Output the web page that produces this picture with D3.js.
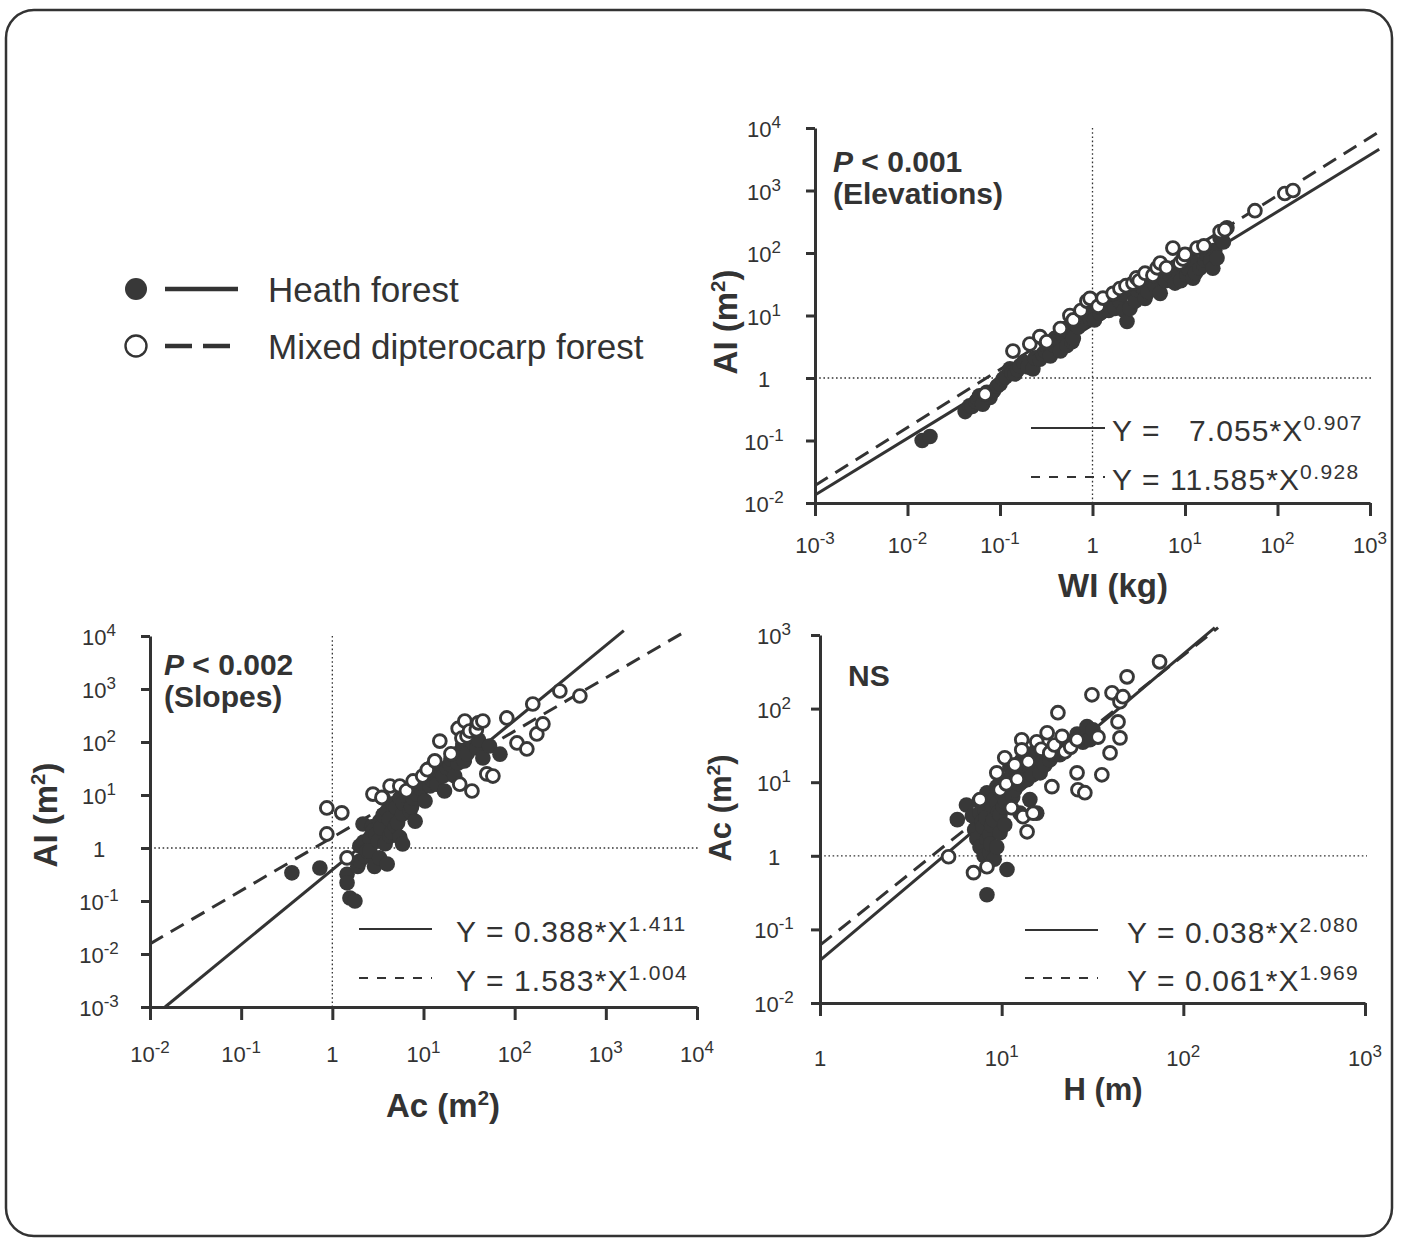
<!DOCTYPE html>
<html>
<head>
<meta charset="utf-8">
<script src="https://cdn.jsdelivr.net/npm/d3@7"></script>
<style>
  html, body { margin: 0; padding: 0; background: #ffffff; }
  svg { display: block; font-family: "Liberation Sans", Arial, Helvetica, sans-serif; }
</style>
</head>
<body>
<svg id="fig" width="1406" height="1239"></svg>
<script>
// ---- Data: [x, y] pairs for each forest type and relationship ----

// Leaf area (AI, m2) vs leaf weight (WI, kg), by elevation
const heathElev = [
  [0.0144,0.100],[0.0175,0.116],[0.042,0.29],[0.047,0.36],[0.050,0.35],[0.055,0.42],
  [0.058,0.46],[0.06,0.52],[0.065,0.38],[0.072,0.59],[0.078,0.49],[0.085,0.62],
  [0.093,0.74],[0.1,0.80],[0.108,0.96],[0.115,1.05],[0.128,1.40],[0.135,1.2],
  [0.145,1.16],[0.155,1.35],[0.164,1.56],[0.18,1.8],[0.2,1.5],[0.227,1.40],[0.24,2.1],
  [0.27,2.0],[0.29,2.4],[0.31,2.7],[0.33,3.0],[0.35,2.26],[0.38,3.4],[0.39,4.3],
  [0.42,3.9],[0.45,2.7],[0.48,4.8],[0.50,6.2],[0.53,3.3],[0.56,5.5],[0.6,3.8],
  [0.62,4.3],[0.65,7.4],[0.7,6.5],[0.73,10],[0.8,8],[0.85,11],[0.87,13],[0.94,9.0],
  [1.0,12],[1.05,8.5],[1.12,16.8],[1.2,10.8],[1.3,18],[1.44,14.5],[1.5,12],[1.6,17],
  [1.67,21],[1.75,13],[1.98,16.8],[2.1,22],[2.2,12],[2.36,8.0],[2.54,13],[2.74,24.4],
  [2.9,17],[3.0,26],[3.27,30.5],[3.5,28],[3.7,18.8],[4.0,24],[4.5,35.3],[4.8,30],
  [5.2,42],[5.4,22.6],[5.8,39.5],[6.2,36],[6.9,44],[7.3,50],[7.8,33],[8.5,48],[9,36],
  [9.5,64],[10.5,44],[11,55],[11.3,93],[12.2,39.5],[12.5,70],[13,48],[14.5,57],
  [14.5,120],[16,65],[16.4,77],[17,95],[18.6,107],[19,75],[20,57],[21,110],[22.2,83],
  [23.9,175],[25,200],[26,150],[28.4,253]
];
const mixedElev = [
  [0.069,0.55],[0.138,2.7],[0.21,3.5],[0.27,4.6],[0.32,3.8],[0.45,6.2],[0.57,10],
  [0.62,8.5],[0.75,12],[0.87,17],[0.94,18.8],[1.15,14],[1.3,19],[1.67,22.6],[1.98,27],
  [2.3,30],[2.74,33],[3.0,40],[3.2,36],[3.7,47.5],[4.5,44],[5.0,58],[5.4,69],[6.3,58],
  [7.4,120],[8.8,69],[9.5,80],[10,95],[13.5,120],[16,130],[24,220],[27,235],[57,475],
  [120,895],[147,1000]
];

// Leaf area (AI, m2) vs crown area (Ac, m2), by slope
const heathSlope = [
  [0.36,0.34],[0.73,0.42],[1.45,0.32],[1.45,0.22],[1.56,0.114],[1.77,0.10],[1.9,0.45],
  [2.0,0.57],[2.0,1.09],[2.2,1.3],[2.3,0.7],[2.4,0.88],[2.58,1.55],[2.58,0.88],
  [2.17,2.84],[2.7,2.5],[2.79,2.1],[2.9,0.45],[3.0,1.8],[3.2,1.36],[3.3,3.2],[3.3,0.65],
  [3.4,2.4],[3.6,4.2],[3.8,1.2],[4.0,5.0],[4.0,0.50],[3.6,8.8],[4.2,3.5],[4.3,1.68],
  [4.5,2.0],[4.6,6.8],[4.9,2.6],[5.0,5.8],[5.2,3.0],[5.5,8.8],[5.5,1.6],[5.9,4.4],
  [5.9,1.19],[6.0,7.0],[6.3,11.9],[6.6,9.5],[7.1,5.0],[7.4,6.0],[7.7,8.8],[8.1,3.2],
  [8.5,10.5],[9.1,13.6],[9.5,17],[10.4,7.7],[10.9,21],[11.8,32],[11.8,14.8],[12.5,19],
  [13,26],[14,16],[15.1,28],[16.5,23],[17,11.9],[18,33],[19.5,38],[20,48],[22,22.8],
  [23.2,59],[24,40],[26,70],[27,92],[28,44],[30,60],[32,119],[35,95],[38.5,77],
  [40,110],[44.8,50],[53,84],[69,59]
];
const mixedSlope = [
  [0.87,5.7],[1.27,4.6],[0.87,1.84],[1.45,0.65],[2.79,10.4],[3.5,9],[4.3,14.8],
  [5.5,14.8],[6.5,12],[7.7,18.4],[9.8,22.8],[11,30],[13.3,44],[15.1,104],[20,60],
  [24,180],[25,16],[26.4,119],[28.4,249],[30,130],[32,161],[34,11.9],[38,170],[40,230],
  [44.8,249],[49.5,25],[57.7,22.8],[82,284],[106,96],[136,74],[158,521],[175,142],
  [204,219],[313,917],[519,738]
];

// Crown area (Ac, m2) vs tree height (H, m)
const heathHeight = [
  [5.7,3.1],[6.4,4.9],[6.9,3.5],[7.1,2.26],[7.2,2.2],[7.3,1.7],[7.5,5.5],[7.6,3.8],
  [7.6,1.32],[7.8,2.9],[7.9,2.48],[8.0,1.0],[8.1,4.2],[8.2,3.3],[8.3,1.65],[8.3,7.2],
  [8.3,0.295],[8.6,1.1],[8.6,1.93],[8.7,1.45],[8.8,2.6],[8.9,4.8],[9.0,3.1],[9.1,0.9],
  [9.2,6.0],[9.4,1.32],[9.4,8.7],[9.4,5.2],[9.6,3.9],[9.8,2.05],[9.8,3.6],[10,7],
  [10.2,4.6],[10.4,2.64],[10.5,5.4],[10.7,10.8],[10.7,0.65],[10.9,9.2],[11.1,16.2],
  [11.3,12],[11.5,6.3],[11.8,7.9],[12.1,13.4],[12.4,9.5],[12.6,3.8],[12.9,20],[13,15],
  [13.5,18.5],[13.8,10.8],[14.3,16.2],[14.3,5.8],[14.8,12.5],[15,25],[15.6,22],
  [15.6,3.8],[16.3,13.4],[16.8,19],[17.3,17.2],[17.8,26],[18.4,20],[19,24],[20.1,30],
  [20.9,23.6],[21.7,37.7],[22.5,32],[23.8,30],[24.5,36],[26,45],[27,41],[28,35],
  [29.5,57],[30.6,37.7],[31.8,51.5]
];
const mixedHeight = [
  [5.1,0.97],[7.0,0.59],[8.3,0.71],[7.6,5.8],[9.4,13.4],[9.8,7.9],[10.4,21.5],
  [10.6,9.5],[11.3,4.5],[11.8,17.2],[12.2,11],[12.9,37.7],[12.9,27.5],[13.1,3.4],
  [13.8,2.12],[14,19],[14.9,3.8],[15.6,35.4],[16.5,28],[17.8,47],[18.4,25],[18.9,8.7],
  [19.5,32],[20.4,88],[21.5,42],[22.3,25.9],[24,30],[26,37.7],[26,13.4],[26.3,7.9],
  [28.7,7.2],[31.4,154],[33.9,41],[35.6,12.6],[39.5,25],[40.5,164],[43.7,66],
  [44.8,40],[44.8,124],[46.5,145],[49,270],[74,432]
];

// Power-law fits Y = a * X^b : [a, b]
const fitElevHeath = [7.055, 0.907];
const fitElevMixed = [11.585, 0.928];
const fitSlopeHeath = [0.388, 1.411];
const fitSlopeMixed = [1.583, 1.004];
const fitHeightHeath = [0.038, 2.080];
const fitHeightMixed = [0.061, 1.969];

// Axis tick exponents (labels are 10^e, with 10^0 shown as "1")
const elevTicksX = [-3, -2, -1, 0, 1, 2, 3];
const elevTicksY = [-2, -1, 0, 1, 2, 3, 4];
const slopeTicksX = [-2, -1, 0, 1, 2, 3, 4];
const slopeTicksY = [-3, -2, -1, 0, 1, 2, 3, 4];
const heightTicksX = [0, 1, 2, 3];
const heightTicksY = [-2, -1, 0, 1, 2, 3];

// Legend entries
const legendLabels = ["Heath forest", "Mixed dipterocarp forest"];

// ---- Drawing ----
const INK = "#333333";
const DOT = "#383838";
const svg = d3.select("#fig");

// rounded outer frame
svg.append("rect")
  .attr("x", 6).attr("y", 10).attr("width", 1386).attr("height", 1226)
  .attr("rx", 28).attr("ry", 28)
  .attr("fill", "#ffffff").attr("stroke", INK).attr("stroke-width", 2.5);

function powLabel(textSel, e, supSize, supShift) {
  if (e === 0) { textSel.text("1"); return; }
  textSel.append("tspan").text("10");
  textSel.append("tspan").attr("dy", -supShift).attr("font-size", supSize).text(String(e));
}

function unitTitle(g, pre, sup, post, size) {
  // e.g. "AI (m" + superscript "2" + ")"
  g.append("tspan").text(pre);
  if (sup) {
    g.append("tspan").attr("dy", -size * 0.36).attr("font-size", size * 0.62).text(sup);
    g.append("tspan").attr("dy", size * 0.36).text(post);
  }
}

function panel(cfg) {
  const x = d3.scaleLog().domain(cfg.xDomain).range(cfg.xRange);
  const y = d3.scaleLog().domain(cfg.yDomain).range(cfg.yRange);
  const g = svg.append("g");
  const [x0, x1] = cfg.xRange;
  const [y0, y1] = cfg.yRange; // y0 bottom, y1 top

  // dotted reference lines at X = 1 and Y = 1
  if (cfg.xDomain[0] < 1) {
    g.append("line").attr("x1", x(1)).attr("x2", x(1)).attr("y1", y1).attr("y2", y0)
      .attr("stroke", INK).attr("stroke-width", 1.3).attr("stroke-dasharray", "1.6,2.6");
  }
  g.append("line").attr("x1", x0).attr("x2", x1 + 2).attr("y1", y(1)).attr("y2", y(1))
    .attr("stroke", INK).attr("stroke-width", 1.3).attr("stroke-dasharray", "1.6,2.6");

  // axes
  const yAxis = d3.axisLeft(y).tickValues(cfg.yTicks.map(e => Math.pow(10, e)))
    .tickFormat("").tickSize(9).tickSizeOuter(0);
  const xAxis = d3.axisBottom(x).tickValues(cfg.xTicks.map(e => Math.pow(10, e)))
    .tickFormat("").tickSize(13).tickSizeOuter(0);
  const ya = g.append("g").attr("transform", `translate(${x0},0)`).call(yAxis);
  const xa = g.append("g").attr("transform", `translate(0,${y0})`).call(xAxis);
  [ya, xa].forEach(a => {
    a.select(".domain").attr("stroke", INK).attr("stroke-width", 3);
    a.selectAll(".tick line").attr("stroke", INK).attr("stroke-width", 3);
  });

  // tick labels
  cfg.yTicks.forEach(e => {
    const t = g.append("text").attr("x", x0 - cfg.yLabelOff).attr("y", y(Math.pow(10, e)) + 9)
      .attr("text-anchor", "middle").attr("font-size", 22).attr("fill", INK);
    powLabel(t, e, 17, 9);
  });
  cfg.xTicks.forEach(e => {
    const t = g.append("text").attr("x", x(Math.pow(10, e))).attr("y", cfg.xLabelY)
      .attr("text-anchor", "middle").attr("font-size", 22).attr("fill", INK);
    powLabel(t, e, 17, 9);
  });

  // axis titles
  const xt = g.append("text").attr("x", cfg.xTitle.x).attr("y", cfg.xTitle.y)
    .attr("text-anchor", "middle").attr("font-weight", "bold")
    .attr("font-size", cfg.xTitle.size).attr("fill", INK);
  unitTitle(xt, cfg.xTitle.pre, cfg.xTitle.sup, cfg.xTitle.post, cfg.xTitle.size);
  const yt = g.append("text")
    .attr("transform", `translate(${cfg.yTitle.x},${cfg.yTitle.y}) rotate(-90)`)
    .attr("text-anchor", "middle").attr("font-weight", "bold")
    .attr("font-size", cfg.yTitle.size).attr("fill", INK);
  unitTitle(yt, cfg.yTitle.pre, cfg.yTitle.sup, cfg.yTitle.post, cfg.yTitle.size);

  // fitted power-law lines (straight in log-log space)
  const xCap = cfg.xDomain[1] * Math.pow(10, 0.1);
  const yCap = cfg.yDomain[1] * Math.pow(10, 0.1);
  function fitLine(fit, dash) {
    const [a, b] = fit;
    const xs = Math.max(cfg.xDomain[0], Math.pow(cfg.yDomain[0] / a, 1 / b));
    const xe = Math.min(xCap, Math.pow(yCap / a, 1 / b));
    const pts = [xs, xe].map(v => [v, a * Math.pow(v, b)]);
    g.append("path")
      .attr("d", d3.line().x(d => x(d[0])).y(d => y(d[1]))(pts))
      .attr("fill", "none").attr("stroke", INK).attr("stroke-width", 3)
      .attr("stroke-dasharray", dash ? "15,9" : null);
  }
  fitLine(cfg.fitMixed, true);
  fitLine(cfg.fitHeath, false);

  // points: filled = heath forest, open = mixed dipterocarp forest
  g.append("g").selectAll("circle").data(cfg.heath).join("circle")
    .attr("cx", d => x(d[0])).attr("cy", d => y(d[1])).attr("r", 7.8)
    .attr("fill", DOT);
  g.append("g").selectAll("circle").data(cfg.mixed).join("circle")
    .attr("cx", d => x(d[0])).attr("cy", d => y(d[1])).attr("r", 6.4)
    .attr("fill", "#ffffff").attr("stroke", DOT).attr("stroke-width", 2.9);

  // significance note
  cfg.note.forEach((line, i) => {
    const t = g.append("text").attr("x", cfg.noteX).attr("y", cfg.noteY + i * 32)
      .attr("font-weight", "bold").attr("font-size", 30).attr("fill", INK);
    if (line.italic) {
      t.append("tspan").attr("font-style", "italic").text(line.italic);
    }
    t.append("tspan").text(line.text);
  });

  // equation key
  const fits = [cfg.fitHeath, cfg.fitMixed];
  const aStr = fits.map(f => f[0].toFixed(3));
  const maxLen = d3.max(aStr, s => s.length);
  fits.forEach((f, i) => {
    const ky = cfg.eq.y + i * cfg.eq.gap;
    g.append("line").attr("x1", cfg.eq.x1).attr("x2", cfg.eq.x2)
      .attr("y1", ky).attr("y2", ky).attr("stroke", INK).attr("stroke-width", 2.2)
      .attr("stroke-dasharray", i === 1 ? "9,9" : null);
    const pad = "  ".repeat(maxLen - aStr[i].length);
    const t = g.append("text").attr("x", cfg.eq.tx).attr("y", ky + 13)
      .attr("font-size", 30).attr("fill", INK).attr("letter-spacing", 1.1)
      .style("white-space", "pre");
    t.append("tspan").text(`Y = ${pad}${aStr[i]}*X`);
    t.append("tspan").attr("dy", -11).attr("font-size", 21).attr("letter-spacing", 1.4)
      .text(f[1].toFixed(3));
  });
}

panel({
  xDomain: [1e-3, 1e3], xRange: [815, 1370],
  yDomain: [1e-2, 1e4], yRange: [503, 128],
  xTicks: elevTicksX, yTicks: elevTicksY,
  yLabelOff: 51, xLabelY: 553,
  xTitle: { x: 1113, y: 597, size: 33, pre: "WI (kg)" },
  yTitle: { x: 737, y: 322, size: 33, pre: "AI (m", sup: "2", post: ")" },
  heath: heathElev, mixed: mixedElev,
  fitHeath: fitElevHeath, fitMixed: fitElevMixed,
  note: [{ italic: "P", text: " < 0.001" }, { text: "(Elevations)" }],
  noteX: 833, noteY: 172,
  eq: { x1: 1031, x2: 1105, tx: 1112, y: 428, gap: 49 }
});

panel({
  xDomain: [1e-2, 1e4], xRange: [150, 697],
  yDomain: [1e-3, 1e4], yRange: [1007, 636],
  xTicks: slopeTicksX, yTicks: slopeTicksY,
  yLabelOff: 51, xLabelY: 1062,
  xTitle: { x: 443, y: 1117, size: 33, pre: "Ac (m", sup: "2", post: ")" },
  yTitle: { x: 57, y: 815, size: 33, pre: "AI (m", sup: "2", post: ")" },
  heath: heathSlope, mixed: mixedSlope,
  fitHeath: fitSlopeHeath, fitMixed: fitSlopeMixed,
  note: [{ italic: "P", text: " < 0.002" }, { text: "(Slopes)" }],
  noteX: 164, noteY: 675,
  eq: { x1: 359, x2: 432, tx: 456, y: 929, gap: 49 }
});

panel({
  xDomain: [1, 1e3], xRange: [820, 1365],
  yDomain: [1e-2, 1e3], yRange: [1003, 635],
  xTicks: heightTicksX, yTicks: heightTicksY,
  yLabelOff: 46, xLabelY: 1066,
  xTitle: { x: 1103, y: 1100, size: 31, pre: "H (m)" },
  yTitle: { x: 731, y: 808, size: 31, pre: "Ac (m", sup: "2", post: ")" },
  heath: heathHeight, mixed: mixedHeight,
  fitHeath: fitHeightHeath, fitMixed: fitHeightMixed,
  note: [{ text: "NS" }],
  noteX: 848, noteY: 686,
  eq: { x1: 1025, x2: 1098, tx: 1127, y: 930, gap: 48 }
});

// legend
const leg = svg.append("g");
legendLabels.forEach((label, i) => {
  const ly = 289 + i * 57;
  if (i === 0) {
    leg.append("circle").attr("cx", 136).attr("cy", ly).attr("r", 11).attr("fill", DOT);
  } else {
    leg.append("circle").attr("cx", 136).attr("cy", ly).attr("r", 10.5)
      .attr("fill", "#ffffff").attr("stroke", INK).attr("stroke-width", 2.4);
  }
  leg.append("line").attr("x1", 165).attr("x2", 238).attr("y1", ly).attr("y2", ly)
    .attr("stroke", INK).attr("stroke-width", 4.5)
    .attr("stroke-dasharray", i === 1 ? "27,11" : null);
  leg.append("text").attr("x", 268).attr("y", ly + 13)
    .attr("font-size", 35).attr("fill", INK).text(label);
});
</script>
</body>
</html>
